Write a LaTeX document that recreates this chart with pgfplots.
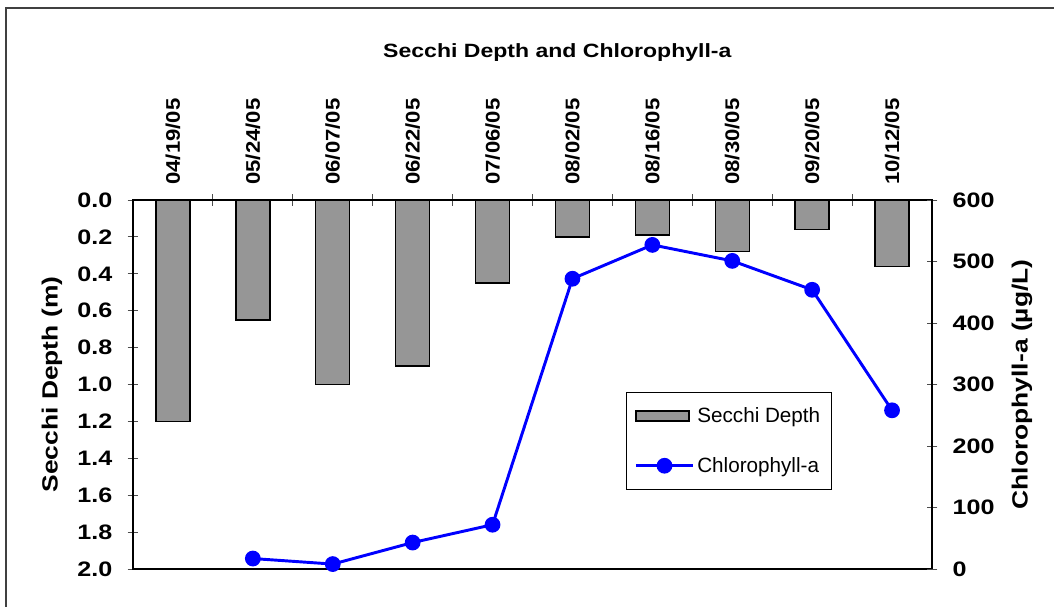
\documentclass[border=0pt]{standalone}
\usepackage{pgfplots}
\pgfplotsset{compat=1.18}
\usepackage{fontspec}
\setmainfont{Liberation Sans}
\newfontfamily\sfont[FakeStretch=1.2]{Liberation Sans}
\newfontfamily\tfont[FakeStretch=1.12]{Liberation Sans}
\definecolor{barfill}{RGB}{150,150,150}
\definecolor{chlblue}{RGB}{0,0,255}
\pgfplotsset{chlleg/.style={legend image code/.code={\draw[mark repeat=2,mark phase=2,##1] plot coordinates {(0pt,0pt) (21.5pt,0pt) (43pt,0pt)};}}}
\begin{document}
\begin{tikzpicture}[x=1pt,y=1pt]
\useasboundingbox (0,0) rectangle (790.5,455.25);
\draw[line width=1.2pt, black!75] (4.5,-5) -- (4.5,449.25) -- (800,449.25);
\node[font=\sfont\bfseries\fontsize{14.4}{17}\selectfont] at (418,416) {Secchi Depth and Chlorophyll-a};
\begin{axis}[
  at={(99.75pt,28.5pt)}, anchor=south west,
  scale only axis, width=599.25pt, height=276.75pt,
  xmin=-0.5, xmax=9.5, ymin=0, ymax=2, y dir=reverse,
  axis line style={line width=1.2pt, black},
  ybar, bar width=25.5pt,
  xtick={0,...,9},
  xticklabels={04/19/05,05/24/05,06/07/05,06/22/05,07/06/05,08/02/05,08/16/05,08/30/05,09/20/05,10/12/05},
  xtick pos=right, xticklabel pos=right,
  minor xtick={0.5,1.5,...,8.5},
  major x tick style={draw=none},
  minor tick length=9pt,
  major tick length=8pt,
  tick align=center,
  tick style={black!70, line width=0.7pt},
  xticklabel style={rotate=90, anchor=west, font=\tfont\bfseries\fontsize{14.8}{17}\selectfont},
  xticklabel shift=4pt,
  ytick={0,0.2,0.4,0.6,0.8,1.0,1.2,1.4,1.6,1.8,2.0},
  ytick pos=left,
  yticklabel style={font=\sfont\bfseries\fontsize{15.7}{18}\selectfont, /pgf/number format/.cd, fixed, fixed zerofill, precision=1},
  yticklabel shift=8pt,
  /pgf/number format/assume math mode=true,
  ylabel={Secchi Depth (m)},
  every axis y label/.style={at={(axis description cs:-0.1014,0.5)}, rotate=90, anchor=center, font=\sfont\bfseries\fontsize{16.5}{20}\selectfont},
]
\addplot[fill=barfill, draw=black, line width=1.1pt] coordinates {
(0,1.2) (1,0.65) (2,1.0) (3,0.9) (4,0.45) (5,0.2) (6,0.19) (7,0.28) (8,0.16) (9,0.36)};
\end{axis}
\begin{axis}[
  at={(99.75pt,28.5pt)}, anchor=south west,
  scale only axis, width=599.25pt, height=276.75pt,
  xmin=-0.5, xmax=9.5, ymin=0, ymax=600,
  axis x line=none, axis y line*=right,
  axis line style={line width=1.2pt, black},
  ytick={0,100,...,600},
  major tick length=8pt, tick align=center,
  tick style={black!70, line width=0.7pt},
  yticklabel style={font=\sfont\bfseries\fontsize{15.7}{18}\selectfont},
  yticklabel shift=8pt,
  /pgf/number format/assume math mode=true,
  ylabel={Chlorophyll-a (µg/L)},
  every axis y label/.style={at={(axis description cs:1.1126,0.5)}, rotate=90, anchor=center, font=\sfont\bfseries\fontsize{16.5}{20}\selectfont},
  legend style={at={(axis description cs:0.617,0.48)}, anchor=north west, draw=black, line width=0.6pt,
    font=\fontsize{15.5}{18}\selectfont, inner xsep=6pt, inner ysep=9.5pt, row sep=20.5pt,
    /tikz/every even column/.append style={column sep=0pt}},
  legend cell align=left,
]
\addlegendimage{legend image code/.code={\draw[fill=barfill,draw=black,line width=1.1pt] (0pt,-3.75pt) rectangle (40pt,3.75pt);}}
\addlegendentry{Secchi Depth}
\addplot[chlblue, line width=2.2pt, mark=*, mark size=4.8pt, mark options={fill=chlblue, draw=chlblue}, chlleg] coordinates {
(1,17) (2,8) (3,43) (4,72) (5,472) (6,527) (7,501) (8,454) (9,258)};
\addlegendentry{Chlorophyll-a}
\end{axis}
\end{tikzpicture}
\end{document}
